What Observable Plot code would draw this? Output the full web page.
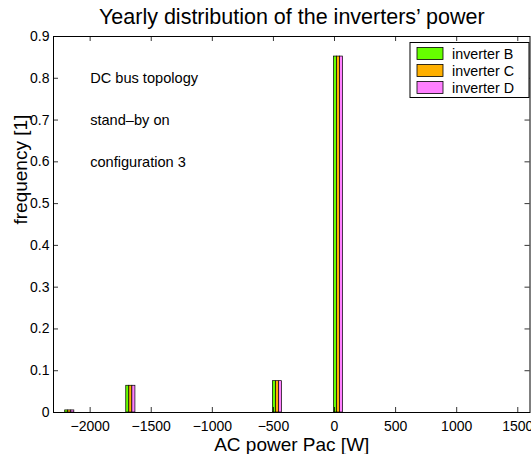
<!DOCTYPE html>
<html>
<head>
<meta charset="utf-8">
<script src="https://cdn.jsdelivr.net/npm/d3@7"></script>
<script src="https://cdn.jsdelivr.net/npm/@observablehq/plot@0.6"></script>
<style>
  html, body { margin: 0; padding: 0; background: white; }
  #chart { width: 531px; height: 454px; }
</style>
</head>
<body>
<div id="chart"></div>
<script>
// ---- data ----
const binCenters = [-2167, -1667, -467, 33];
const inverterB = [0.005, 0.064, 0.075, 0.852];
const inverterC = [0.005, 0.064, 0.075, 0.852];
const inverterD = [0.005, 0.064, 0.075, 0.852];
const seriesNames = ["inverter B", "inverter C", "inverter D"];
const seriesColors = ["#66ff00", "#ffb000", "#ff80ff"];
const xTicks = [-2000, -1500, -1000, -500, 0, 500, 1000, 1500];
const yTicks = [0, 0.1, 0.2, 0.3, 0.4, 0.5, 0.6, 0.7, 0.8, 0.9];
const annX = [-2000, -2000, -2000];
const annY = [0.8, 0.7, 0.6];
const annText = ["DC bus topology", "stand\u2013by on", "configuration 3"];
const titleText = "Yearly distribution of the inverters\u2019 power";
const xLabel = "AC power Pac [W]";
const yLabel = "frequency [1]";

// ---- build table ----
const barWidth = 25; // W, each bar in group
const seriesValues = [inverterB, inverterC, inverterD];
const bars = [];
seriesValues.forEach((vals, s) => {
  vals.forEach((v, i) => {
    const c = binCenters[i] + (s - 1) * barWidth;
    bars.push({series: seriesNames[s], x1: c - barWidth / 2, x2: c + barWidth / 2, y: v});
  });
});

const W = 531, H = 454;
const mT = 36, mB = 42, mL = 53, mR = 1.5;
const plotH = H - mT - mB;
const plotW = W - mL - mR;
const tickLen = 5;
const FONT = "'Liberation Sans', Arial, Helvetica, sans-serif";
const fmtX = d => d < 0 ? "\u2212" + Math.abs(d) : String(d);
const fmtY = d => d === 0 ? "0" : String(+d.toFixed(1));

const chart = Plot.plot({
  width: W,
  height: H,
  marginTop: mT,
  marginBottom: mB,
  marginLeft: mL,
  marginRight: mR,
  style: {fontFamily: FONT, fontSize: "14px", background: "white", color: "black"},
  x: {domain: [-2300, 1600], ticks: xTicks, tickFormat: fmtX},
  y: {domain: [0, 0.9], ticks: yTicks, tickFormat: fmtY},
  color: {domain: seriesNames, range: seriesColors},
  marks: [
    Plot.axisX(xTicks, {tickSize: 0, tickPadding: 9, tickFormat: fmtX, label: null, fontSize: 14}),
    Plot.axisY(yTicks, {tickSize: 0, tickPadding: 4, tickFormat: fmtY, label: null, fontSize: 14}),
    // zero baseline (zero-height bins)
    Plot.ruleY([0], {stroke: "black", strokeWidth: 1.2}),
    Plot.ruleY([0], {stroke: "#66ff00", strokeWidth: 1, strokeDasharray: "2,10", strokeDashoffset: 0, strokeOpacity: 0.6}),
    Plot.ruleY([0], {stroke: "#ffb000", strokeWidth: 1, strokeDasharray: "2,10", strokeDashoffset: 4, strokeOpacity: 0.6}),
    Plot.ruleY([0], {stroke: "#ff80ff", strokeWidth: 1, strokeDasharray: "2,10", strokeDashoffset: 8, strokeOpacity: 0.6}),
    Plot.rectY(bars, {x1: "x1", x2: "x2", y1: 0, y2: "y", fill: "series", stroke: "black", strokeWidth: 0.7}),
    // inward ticks
    Plot.ruleX(xTicks, {x: d => d, insetTop: plotH - tickLen, stroke: "black", strokeWidth: 0.8}),
    Plot.ruleX(xTicks, {x: d => d, insetBottom: plotH - tickLen, stroke: "black", strokeWidth: 0.8}),
    Plot.ruleY(yTicks, {y: d => d, insetRight: plotW - tickLen, stroke: "black", strokeWidth: 0.8}),
    Plot.ruleY(yTicks, {y: d => d, insetLeft: plotW - tickLen, stroke: "black", strokeWidth: 0.8}),
    Plot.frame({stroke: "black", strokeWidth: 1}),
    // annotations
    Plot.text(annText, {x: (d, i) => annX[i], y: (d, i) => annY[i], text: d => d, textAnchor: "start", lineAnchor: "middle", fontSize: 14.6}),
    // title and axis labels
    Plot.text([titleText], {frameAnchor: "top", dy: -13, lineAnchor: "bottom", fontSize: 21.5}),
    Plot.text([xLabel], {frameAnchor: "bottom", dy: 38, lineAnchor: "bottom", fontSize: 19}),
    Plot.text([yLabel], {frameAnchor: "left", dx: -27, rotate: -90, lineAnchor: "bottom", fontSize: 19})
  ]
});

// legend
const svg = d3.select(chart);
const lg = svg.append("g").attr("font-family", FONT).attr("font-size", 14.3).attr("text-anchor", "start");
const lgRight = W - mR;
const lgX = lgRight - 119.5, lgY = mT + 6.5;
lg.append("rect").attr("x", lgX).attr("y", lgY).attr("width", 119).attr("height", 55)
  .attr("fill", "white").attr("stroke", "black").attr("stroke-width", 1);
seriesNames.forEach((name, i) => {
  const cy = lgY + 11 + i * 17;
  lg.append("rect").attr("x", lgX + 7).attr("y", cy - 6).attr("width", 26).attr("height", 12)
    .attr("fill", seriesColors[i]).attr("stroke", "black").attr("stroke-width", 0.8);
  lg.append("text").attr("x", lgX + 42).attr("y", cy + 5).attr("fill", "black")
    .attr("text-anchor", "start").text(name);
});

document.getElementById("chart").appendChild(chart);
</script>
</body>
</html>
